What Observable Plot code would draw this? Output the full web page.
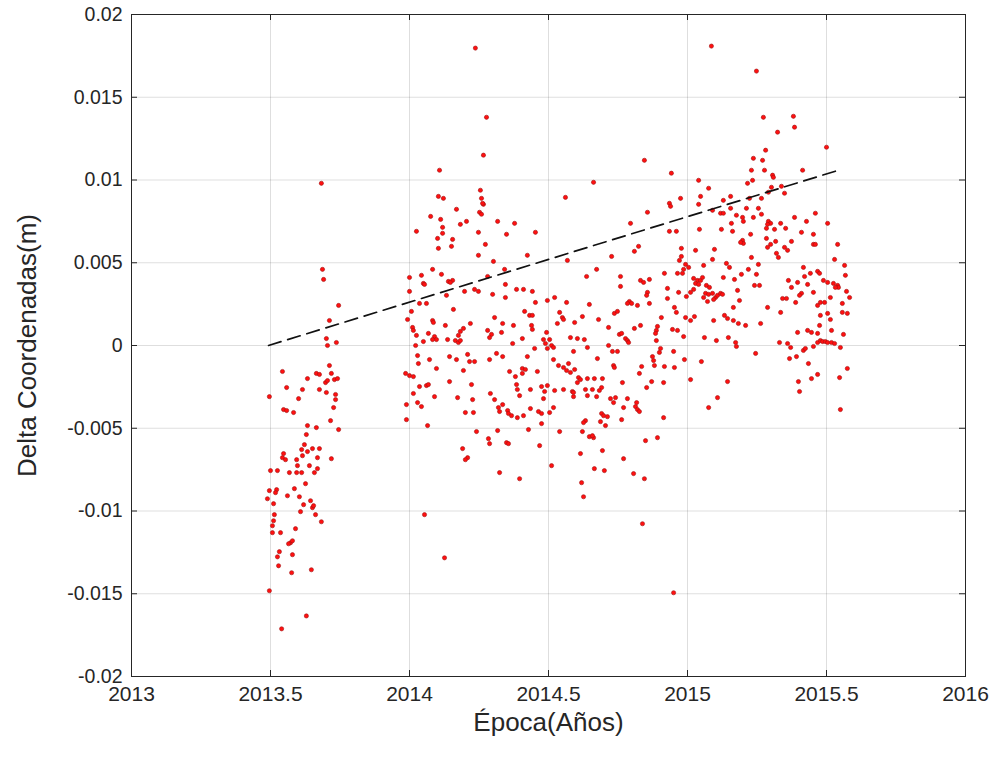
<!DOCTYPE html>
<html>
<head>
<meta charset="utf-8">
<script src="https://cdn.jsdelivr.net/npm/d3@7"></script>
<script src="https://cdn.jsdelivr.net/npm/@observablehq/plot@0.6"></script>
<style>
  html, body { margin: 0; padding: 0; background: #fff; }
  #wrap { position: relative; width: 1000px; height: 759px; overflow: hidden; font-family: "Liberation Sans", Arial, sans-serif; }
  #title { position: absolute; top: -16px; left: 0; width: 1000px; text-align: center; font-size: 20px; font-weight: bold; color: #000; line-height: 23px; white-space: nowrap; }
  #title sub { font-size: 15px; }
  #chart { position: absolute; top: 0; left: 0; }
</style>
</head>
<body>
<div id="wrap">
  <div id="title">Serie de Tiempo Delta Coordenadas - Componente Δ<sub>Z</sub></div>
  <div id="chart"></div>
</div>
<script>
// ---- tick values and labels ----
const xTicks = [2013, 2013.5, 2014, 2014.5, 2015, 2015.5, 2016];
const xTickLabels = ["2013", "2013.5", "2014", "2014.5", "2015", "2015.5", "2016"];
const yTicks = [-0.02, -0.015, -0.01, -0.005, 0, 0.005, 0.01, 0.015, 0.02];
const yTickLabels = ["-0.02", "-0.015", "-0.01", "-0.005", "0", "0.005", "0.01", "0.015", "0.02"];

// ---- trend line (epoch in years, delta in m) ----
const trendEpoch = [2013.493, 2015.543];
const trendDelta = [0.0, 0.01059];

// ---- observations: [epoch (years), delta (mm)] ----
const obs2013 = [
[2013.683,9.80],[2013.687,4.60],[2013.691,3.99],[2013.745,2.42],[2013.712,1.51],[2013.701,0.42],[2013.737,0.18],[2013.705,0.00],
[2013.543,-1.57],[2013.712,-1.21],[2013.633,-2.00],[2013.665,-1.69],[2013.676,-1.75],[2013.719,-1.69],[2013.698,-2.24],[2013.705,-2.12],
[2013.730,-2.06],[2013.741,-2.00],[2013.558,-2.54],[2013.615,-2.66],[2013.676,-2.66],[2013.701,-2.84],[2013.734,-2.96],[2013.734,-3.27],
[2013.496,-3.09],[2013.601,-3.21],[2013.727,-3.75],[2013.547,-3.87],[2013.558,-3.93],[2013.583,-4.05],[2013.716,-4.54],[2013.633,-4.84],
[2013.665,-4.96],[2013.745,-5.08],[2013.629,-5.38],[2013.622,-5.99],[2013.612,-6.29],[2013.633,-6.41],[2013.651,-6.23],[2013.676,-6.23],
[2013.547,-6.53],[2013.543,-6.78],[2013.554,-6.90],[2013.615,-6.66],[2013.669,-6.78],[2013.594,-6.90],[2013.597,-7.26],[2013.719,-6.84],
[2013.500,-7.56],[2013.525,-7.56],[2013.568,-7.68],[2013.594,-7.68],[2013.612,-7.68],[2013.640,-7.26],[2013.669,-7.44],[2013.658,-7.68],
[2013.626,-8.35],[2013.496,-8.77],[2013.522,-8.71],[2013.518,-8.89],[2013.489,-9.26],[2013.586,-8.65],[2013.561,-9.08],[2013.604,-9.14],
[2013.511,-9.56],[2013.644,-9.38],[2013.619,-9.62],[2013.651,-9.80],[2013.655,-9.68],[2013.608,-10.04],[2013.514,-10.22],[2013.511,-10.59],
[2013.507,-10.89],[2013.507,-11.31],[2013.662,-10.22],[2013.683,-10.65],[2013.590,-11.07],[2013.536,-11.31],[2013.572,-11.92],[2013.565,-11.98],
[2013.579,-11.80],[2013.532,-12.46],[2013.525,-12.77],[2013.579,-12.64],[2013.529,-13.31],[2013.647,-13.55],[2013.576,-13.73],[2013.496,-14.82],
[2013.629,-16.34],[2013.540,-17.12]
];

const obs2014 = [
[2014.237,17.97],[2014.277,13.79],[2014.266,11.50],[2014.108,10.59],[2014.561,8.95],[2014.255,9.38],[2014.104,9.01],[2014.122,8.89],
[2014.259,8.89],[2014.266,8.53],[2014.263,8.59],[2014.169,8.23],[2014.252,8.05],[2014.259,7.93],[2014.076,7.80],[2014.112,7.62],
[2014.317,7.50],[2014.205,7.50],[2014.183,7.32],[2014.378,7.38],[2014.119,7.14],[2014.025,6.90],[2014.248,6.84],[2014.119,6.78],
[2014.453,6.84],[2014.349,6.72],[2014.101,6.47],[2014.155,6.41],[2014.273,6.11],[2014.104,5.87],[2014.151,5.99],[2014.248,5.45],
[2014.424,5.45],
[2014.302,5.08],[2014.568,5.14],[2014.083,4.60],[2014.115,4.30],[2014.000,4.11],[2014.043,4.24],[2014.050,3.75],[2014.054,3.69],
[2014.140,3.87],[2014.155,3.93],[2014.147,3.81],[2014.281,4.17],[2014.342,4.60],[2014.637,4.17],[2014.000,3.27],[2014.345,3.69],
[2014.198,3.27],[2014.234,3.39],[2014.248,3.27],[2014.385,3.39],[2014.410,3.39],[2014.442,3.27],[2014.299,3.09],[2014.133,3.03],
[2014.345,2.90],[2014.453,2.60],[2014.496,2.72],[2014.522,2.90],[2014.036,2.54],[2014.061,2.54],[2014.007,2.06],[2014.158,2.18],
[2014.414,2.06],[2014.432,1.82],[2014.442,1.82],[2014.540,2.00],[2014.550,1.69],[2014.554,1.57],[2014.622,1.75],[2013.993,1.57],
[2014.306,1.69],[2014.083,1.51],[2014.086,1.39],[2014.219,1.33],[2014.335,1.33],[2014.374,1.21],[2014.439,1.21],[2014.442,0.97],
[2014.594,1.39],[2014.129,1.21],[2014.011,1.09],[2014.014,0.91],[2014.025,0.61],[2014.532,1.33],[2014.194,1.03],[2014.183,0.85],
[2014.281,0.91],[2014.295,0.67],[2014.288,0.48],[2014.331,0.79],[2014.493,0.79],[2014.068,0.73],[2014.090,0.54],[2014.097,0.36],
[2014.083,0.36],[2014.176,0.61],[2014.050,0.24],[2014.137,0.36],[2014.165,0.30],[2014.176,0.18],[2014.183,0.30],[2014.371,0.12],
[2014.406,0.42],[2014.482,0.36],[2014.504,0.36],[2014.489,0.12],[2014.511,0.00],[2014.496,-0.18],[2014.518,-0.12],[2014.579,0.48],
[2014.604,0.42],[2014.629,0.36],[2014.022,0.00],[2014.450,-0.18],[2014.640,-0.12],[2014.029,-0.61],[2014.072,-0.85],[2014.144,-0.67],
[2014.169,-0.85],[2014.209,-0.54],[2014.216,-0.97],[2014.234,-0.97],[2014.288,-0.85],[2014.313,-0.48],[2014.335,-0.67],[2014.424,-0.67],
[2014.032,-1.09],[2014.097,-1.39],[2014.194,-1.51],[2014.360,-1.57],[2014.406,-1.39],[2014.417,-1.45],[2014.406,-1.69],[2014.460,-1.57],
[2014.518,-0.85],[2014.536,-1.21],[2014.554,-1.33],[2014.572,-1.09],[2014.565,-1.51],[2014.579,-1.63],[2014.594,-1.45],[2013.986,-1.69],
[2014.000,-1.82],[2014.014,-1.88],[2014.381,-1.88],[2014.608,-1.94],[2014.615,-2.06],[2014.144,-2.18],[2014.036,-2.48],[2014.061,-2.42],
[2014.068,-2.36],[2014.223,-2.36],[2014.385,-2.36],[2014.388,-2.66],[2014.435,-2.66],[2014.475,-2.48],[2014.496,-2.42],[2014.486,-2.78],
[2014.522,-2.72],[2014.554,-2.66],[2014.586,-2.78],[2014.590,-3.09],[2014.590,-2.84],[2014.633,-2.66],[2014.014,-2.90],[2014.090,-3.09],
[2014.173,-3.15],[2014.227,-3.27],[2014.291,-2.90],[2014.396,-3.03],[2014.306,-3.27],[2014.482,-3.21],[2013.989,-3.57],[2014.029,-3.45],
[2014.043,-3.69],[2014.335,-3.57],[2014.320,-3.75],[2014.324,-3.99],[2014.353,-3.93],[2014.356,-4.11],[2014.367,-4.24],[2014.435,-3.81],
[2014.464,-3.99],[2014.475,-4.11],[2014.504,-4.05],[2014.518,-3.75],[2014.201,-4.05],[2014.230,-4.05],[2014.388,-4.36],[2014.410,-4.24],
[2013.989,-4.48],[2014.065,-4.84],[2014.241,-5.20],[2014.317,-5.14],[2014.428,-5.08],[2014.475,-4.72],[2014.540,-5.20],[2014.633,-4.54],
[2014.626,-4.66],[2014.284,-5.63],[2014.288,-5.93],[2014.349,-5.87],[2014.356,-5.93],[2014.468,-6.05],[2014.191,-6.23],[2014.209,-6.78],
[2014.615,-6.53],
[2014.622,-5.20],[2014.201,-6.90],[2014.647,-5.51],[2014.662,-5.57],[2014.849,-5.75],[2014.892,-5.57],[2014.694,-6.35],[2014.770,-6.84],
[2014.324,-7.68],[2014.396,-8.05],[2014.511,-7.26],[2014.665,-7.44],[2014.701,-7.56],[2014.806,-7.74],[2014.845,-8.05],[2014.619,-8.29],
[2014.626,-9.14],[2014.054,-10.22],[2014.126,-12.83],[2014.838,-10.77],[2014.950,-14.94],
[2014.845,11.19],[2014.942,10.41],[2014.662,9.86],[2014.975,8.89],[2014.935,8.59],[2014.939,8.41],[2014.856,8.05],[2014.795,7.38],
[2014.935,6.90],[2014.960,6.90],[2014.824,5.99],[2014.809,5.69],[2014.978,5.87],[2014.727,5.38],[2014.978,5.38],[2014.971,5.14],
[2014.993,4.90],[2015.004,4.72],[2014.986,4.60],[2014.982,4.36],[2014.673,4.60],[2014.759,4.17],[2014.964,4.36],[2014.917,4.36],
[2014.759,3.57],[2014.831,3.93],[2014.842,3.81],[2014.863,3.99],[2014.856,3.21],[2014.853,3.03],[2014.928,3.45],[2014.968,3.21],
[2014.996,2.96],[2014.791,2.66],[2014.784,2.54],[2014.799,2.54],[2014.820,2.42],[2014.863,2.54],[2014.565,2.60],[2014.647,2.48],
[2014.928,2.84],[2014.953,2.30],[2014.960,2.00],[2014.737,1.94],[2014.748,2.06],[2014.906,1.69],[2014.680,1.57],[2014.993,1.69],
[2014.831,1.21],[2014.809,1.03],[2014.716,1.09],[2014.892,1.15],[2014.888,0.91],[2014.885,0.73],[2014.946,0.97],[2014.964,0.91],
[2014.755,0.67],[2014.763,0.73],[2014.986,0.54],[2014.777,0.42],[2014.784,0.30],[2014.788,0.18],[2014.716,0.00],[2014.888,0.30],
[2014.903,-0.18],[2014.899,-0.42],[2014.590,-0.36],[2014.730,-0.36],[2014.748,-0.36],[2014.676,-0.79],[2014.950,-0.36],[2014.874,-0.67],
[2014.878,-0.91],[2014.881,-1.21],[2014.734,-1.21],[2014.737,-1.33],[2014.917,-1.27],[2014.953,-1.33],[2014.989,-0.85],[2014.835,-1.27],
[2014.604,-2.24],[2014.640,-2.00],[2014.665,-2.00],[2014.694,-2.00],[2014.766,-2.24],[2014.827,-1.69],[2014.871,-2.18],[2014.914,-2.24],
[2015.011,-2.06],[2014.658,-2.66],[2014.691,-2.54],[2014.683,-2.72],[2014.640,-3.03],[2014.673,-3.09],[2014.853,-2.54],[2014.723,-3.21],
[2014.734,-3.45],[2014.741,-3.15],[2014.784,-3.21],[2014.817,-3.45],[2014.813,-3.69],[2014.820,-3.87],[2014.827,-3.99],[2014.770,-3.75],
[2014.691,-4.11],[2014.698,-4.24],[2014.712,-4.30],[2014.763,-4.48],[2014.914,-4.36],[2014.687,-4.60],[2014.705,-4.84],[2014.658,-5.45]
];

const obs2015 = [
[2015.086,18.09],[2015.248,16.58],[2015.273,13.79],[2015.381,13.85],[2015.385,13.19],[2015.324,12.89],[2015.500,11.98],[2015.281,11.80],
[2015.237,11.31],[2015.270,11.19],[2015.230,10.59],[2015.277,10.59],[2015.414,10.59],[2015.306,10.29],[2015.309,10.16],[2015.040,9.98],
[2015.216,9.80],[2015.234,9.98],[2015.302,9.56],[2015.338,9.62],[2015.076,9.50],[2015.349,9.20],[2015.291,9.26],[2015.047,9.01],
[2015.155,9.01],[2015.266,8.89],[2015.129,8.77],[2015.223,8.89],[2015.040,8.53],[2015.090,8.17],[2015.119,7.99],[2015.129,7.99],
[2015.155,8.29],[2015.212,8.29],[2015.255,8.29],[2015.176,7.87],[2015.198,7.74],[2015.201,7.50],[2015.237,7.74],[2015.266,7.93],
[2015.385,7.74],[2015.460,7.99],[2015.291,7.50],[2015.299,7.38],[2015.288,7.32],[2015.335,7.38],[2015.428,7.50],[2015.504,7.38],
[2015.158,7.38],[2015.162,6.90],[2015.043,7.02],[2015.122,7.02],[2015.284,7.08],[2015.313,7.02],[2015.353,7.08],[2015.410,6.84],
[2015.453,6.72],[2015.227,6.72],[2015.198,6.35],[2015.201,6.17],[2015.191,6.23],[2015.284,6.47],[2015.317,6.29],[2015.299,6.11],
[2015.288,5.93],[2015.374,6.29],[2015.453,6.11],[2015.460,6.11],[2015.540,6.11],[2015.029,5.75],[2015.097,5.81],[2015.230,5.32],
[2015.320,5.57],[2015.327,5.32],[2015.349,5.93],[2015.360,5.75],[2015.090,5.20],[2015.529,5.20],
[2015.058,4.84],[2015.140,4.96],[2015.151,4.72],[2015.129,4.11],[2015.169,3.99],[2015.194,4.30],[2015.219,4.60],[2015.255,4.90],
[2015.248,4.30],[2015.022,4.05],[2015.036,3.93],[2015.029,3.75],[2015.040,3.69],[2015.047,3.93],[2015.054,4.11],[2015.011,3.21],
[2015.022,3.39],[2015.068,3.63],[2015.079,3.51],[2015.180,3.33],[2015.241,3.63],[2015.259,3.63],[2015.065,3.15],[2015.058,2.90],
[2015.076,3.09],[2015.090,3.15],[2015.101,2.90],[2015.108,3.03],[2015.119,3.15],[2015.126,3.09],[2015.094,2.78],[2015.072,2.66],
[2015.187,2.72],[2015.165,2.30],[2015.288,2.30],[2015.335,2.00],[2015.133,1.82],[2015.144,1.63],[2015.165,1.51],[2015.183,1.33],
[2015.209,1.21],[2015.263,1.33],[2015.011,1.51],[2015.025,1.75],[2015.094,1.51],[2015.061,0.48],[2015.104,0.30],[2015.147,0.48],
[2015.173,0.18],[2015.176,-0.06],[2015.245,-0.48],[2015.050,-0.97],[2015.144,-2.18],[2015.108,-3.15],[2015.076,-3.75],
[2015.363,3.93],[2015.374,3.51],[2015.396,3.81],[2015.421,4.17],[2015.442,4.36],[2015.432,3.69],[2015.468,4.48],[2015.453,3.21],
[2015.475,4.36],[2015.489,3.93],[2015.504,3.81],[2015.525,3.75],[2015.540,3.63],[2015.543,3.51],[2015.532,3.51],[2015.410,3.15],
[2015.403,3.03],[2015.342,2.84],[2015.356,2.84],[2015.389,2.60],[2015.478,2.60],[2015.493,2.60],[2015.468,2.42],[2015.514,2.90],
[2015.557,2.54],[2015.572,3.27],[2015.583,2.90],[2015.565,4.84],[2015.568,4.24],[2015.478,1.82],[2015.504,1.94],[2015.514,1.57],
[2015.557,2.00],[2015.575,1.94],[2015.475,1.21],[2015.518,0.91],[2015.396,0.79],[2015.432,0.91],[2015.446,0.79],[2015.468,0.73],
[2015.561,0.67],[2015.331,0.18],[2015.360,0.12],[2015.371,-0.12],[2015.392,-0.67],[2015.367,-0.79],[2015.417,-0.30],[2015.424,-0.18],
[2015.453,-0.06],[2015.468,0.18],[2015.478,0.30],[2015.486,0.24],[2015.496,0.24],[2015.504,0.18],[2015.518,0.18],[2015.529,0.12],
[2015.550,-0.12],[2015.435,-1.09],[2015.575,-1.39],[2015.468,-1.75],[2015.446,-2.00],[2015.399,-2.18],[2015.403,-2.78],[2015.547,-1.94],
[2015.550,-3.87],[2015.417,4.72]
];

// ---- build tables ----
const points = [...obs2013, ...obs2014, ...obs2015].map(([t, mm]) => ({epoca: t, delta: mm / 1000}));
const trend = trendEpoch.map((t, i) => ({epoca: t, delta: trendDelta[i]}));

const xDom = [xTicks[0], xTicks[xTicks.length - 1]];
const yDom = [yTicks[0], yTicks[yTicks.length - 1]];
const W = 1000, H = 759, mL = 131, mR = 35, mT = 14, mB = 83;
const tickLen = 6;
const xPerPx = (xDom[1] - xDom[0]) / (W - mL - mR);
const yPerPx = (yDom[1] - yDom[0]) / (H - mT - mB);
const axisColor = "#262626";
const font = "'Liberation Sans', Arial, sans-serif";

const chart = Plot.plot({
  width: W,
  height: H,
  marginLeft: mL,
  marginRight: mR,
  marginTop: mT,
  marginBottom: mB,
  style: {fontFamily: font, background: "#fff", overflow: "visible"},
  x: {domain: xDom, ticks: xTicks},
  y: {domain: yDom, ticks: yTicks},
  marks: [
    Plot.gridX(xTicks, {stroke: "#000", strokeOpacity: 0.13, strokeWidth: 1}),
    Plot.gridY(yTicks, {stroke: "#000", strokeOpacity: 0.13, strokeWidth: 1}),
    Plot.dot(points, {x: "epoca", y: "delta", r: 2.1, fill: "#ff1010", stroke: "#a01010", strokeWidth: 0.6}),
    Plot.line(trend, {x: "epoca", y: "delta", stroke: "#111", strokeWidth: 1.7, strokeDasharray: "13,7"}),
    // inward ticks on all four sides (MATLAB box style)
    Plot.ruleX(xTicks, {y1: yDom[0], y2: yDom[0] + tickLen * yPerPx, stroke: axisColor}),
    Plot.ruleX(xTicks, {y1: yDom[1], y2: yDom[1] - tickLen * yPerPx, stroke: axisColor}),
    Plot.ruleY(yTicks, {x1: xDom[0], x2: xDom[0] + tickLen * xPerPx, stroke: axisColor}),
    Plot.ruleY(yTicks, {x1: xDom[1], x2: xDom[1] - tickLen * xPerPx, stroke: axisColor}),
    Plot.frame({stroke: axisColor, strokeWidth: 1}),
    Plot.axisX(xTicks, {
      tickSize: 0, tickPadding: 10, fontSize: 21, fill: axisColor,
      tickFormat: (d) => xTickLabels[xTicks.indexOf(d)],
      label: "Época(Años)", labelAnchor: "center", labelArrow: "none", labelOffset: 54
    }),
    Plot.axisY(yTicks, {
      tickSize: 0, tickPadding: 9, fontSize: 19.5, fill: axisColor,
      tickFormat: (d) => yTickLabels[yTicks.indexOf(d)],
      label: "Delta Coordenadas(m)", labelAnchor: "center", labelArrow: "none", labelOffset: 114
    })
  ]
});
document.getElementById("chart").appendChild(chart);
// axis label sizes
chart.querySelectorAll("g[aria-label='x-axis label'] text").forEach(t => t.setAttribute("font-size", "26"));
chart.querySelectorAll("g[aria-label='y-axis label'] text").forEach(t => t.setAttribute("font-size", "26"));
</script>
</body>
</html>
